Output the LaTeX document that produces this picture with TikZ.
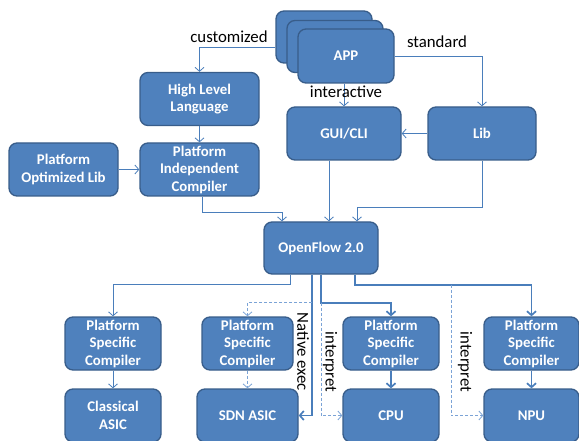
\documentclass[tikz,border=0pt]{standalone}
\usepackage{fontspec}
\setmainfont{Carlito}
\usepackage{tikz}
\usetikzlibrary{arrows.meta}

\definecolor{boxblue}{HTML}{4F81BD}
\definecolor{boxedge}{HTML}{385D8A}
\definecolor{lineblue}{HTML}{4A7EBB}
\definecolor{dashblue}{HTML}{7BA3D6}

\begin{document}
\begin{tikzpicture}[x=1pt, y=-1pt,
  block/.style={draw=boxedge, fill=boxblue, line width=1.3pt, rounded corners=8pt,
    text=white, font=\bfseries\fontsize{14.8}{17.5}\selectfont, align=center,
    inner sep=0pt, minimum height=53pt},
  conn/.style={draw=lineblue, line width=0.8pt, -{Straight Barb[length=4pt,width=9pt]}},
  thickconn/.style={draw=lineblue, line width=1.7pt, -{Straight Barb[length=4pt,width=9pt]}},
  dconn/.style={draw=dashblue, line width=0.8pt, dash pattern=on 3pt off 2pt,
    -{Straight Barb[length=4pt,width=9pt]}},
  lbl/.style={font=\fontsize{16.8}{19}\selectfont, inner sep=0pt}]
  \useasboundingbox (0,0) rectangle (579,441);
  % Applications
  \node[block, minimum width=96pt, minimum height=52pt] at (324,37) (app1) {};
  \node[block, minimum width=96pt, minimum height=52pt] at (335,46.5) (app2) {};
  \node[block, minimum width=96pt, minimum height=54pt] at (346,56) (app3) {APP};
  % Upper layer
  \node[block, minimum width=119pt] at (199.5,99) (hll) {High Level\\Language};
  \node[block, minimum width=119pt] at (199.5,169.5) (pic) {Platform\\Independent\\Compiler};
  \node[block, minimum width=109pt] at (63.5,169.5) (pol) {Platform\\Optimized Lib};
  \node[block, minimum width=114pt] at (344,133.5) (gui) {GUI/CLI};
  \node[block, minimum width=108pt] at (482,133.5) (lib) {Lib};
  \node[block, minimum width=114pt, minimum height=52pt] at (321,248) (of) {OpenFlow 2.0};
  % Targets
  \node[block, minimum width=96pt] at (113,343.5) (psc1) {Platform\\Specific\\Compiler};
  \node[block, minimum width=96pt] at (113,415.5) (asic) {Classical\\ASIC};
  \node[block, minimum width=91pt] at (247.5,343.5) (psc2) {Platform\\Specific\\Compiler};
  \node[block, minimum width=101pt] at (247.5,415.5) (sdn) {SDN ASIC};
  \node[block, minimum width=96pt] at (391,343.5) (psc3) {Platform\\Specific\\Compiler};
  \node[block, minimum width=96pt] at (391,415.5) (cpu) {CPU};
  \node[block, minimum width=95pt] at (531.5,343.5) (psc4) {Platform\\Specific\\Compiler};
  \node[block, minimum width=95pt] at (531.5,415.5) (npu) {NPU};
  % App paths
  \draw[conn] ([yshift=-10pt]app1.west) -| (hll.north);
  \draw[conn] (app3.east) -| (lib.north);
  \draw[conn] (gui.north |- app3.south) -- (gui.north);
  \draw[conn] (hll) -- (pic);
  \draw[conn] (pol) -- (pic);
  \draw[conn] (lib.west) -- (gui.east);
  % Into OpenFlow
  \draw[conn] ([xshift=3pt]pic.south) -- ++(0,16) -| ([xshift=-39pt]of.north);
  \draw[conn] ([xshift=-15pt]gui.south) -- ([xshift=-15pt]gui.south |- of.north);
  \draw[conn] (lib.south) -- ++(0,47) -| ([xshift=36pt]of.north);
  % Out of OpenFlow
  \draw[conn] ([xshift=-31pt]of.south) -- ++(0,10) -| (psc1.north);
  \draw[thickconn] ([xshift=-9pt]of.south) |- (sdn.east);
  \draw[dconn] ([xshift=-9pt,yshift=-28pt]of.south) -| (psc2.north);
  \draw[thickconn] (of.south) -- ++(0,28) -| (psc3.north);
  \draw[dconn] ([yshift=-28pt]of.south) |- (cpu.west);
  \draw[thickconn] ([xshift=34pt]of.south) -- ++(0,10) -| (psc4.north);
  \draw[dconn] ([xshift=130pt,yshift=-10pt]of.south) |- (npu.west);
  % Compile to target
  \draw[conn] (psc1) -- (asic);
  \draw[dconn] (psc2) -- (sdn);
  \draw[thickconn] (psc3) -- (cpu);
  \draw[thickconn] (psc4) -- (npu);
  % Labels
  \node[lbl] at (229,37) (lcust) {customized};
  \node[lbl] at (437,42) (lstd) {standard};
  \node[lbl] at (346,92) (linter) {interactive};
  \node[lbl, rotate=-90] at (303,352) (lnative) {Native exec};
  \node[lbl, rotate=-90] at (330,362) (linterpa) {interpret};
  \node[lbl, rotate=-90] at (465,362) (linterpb) {interpret};
\end{tikzpicture}
\end{document}
